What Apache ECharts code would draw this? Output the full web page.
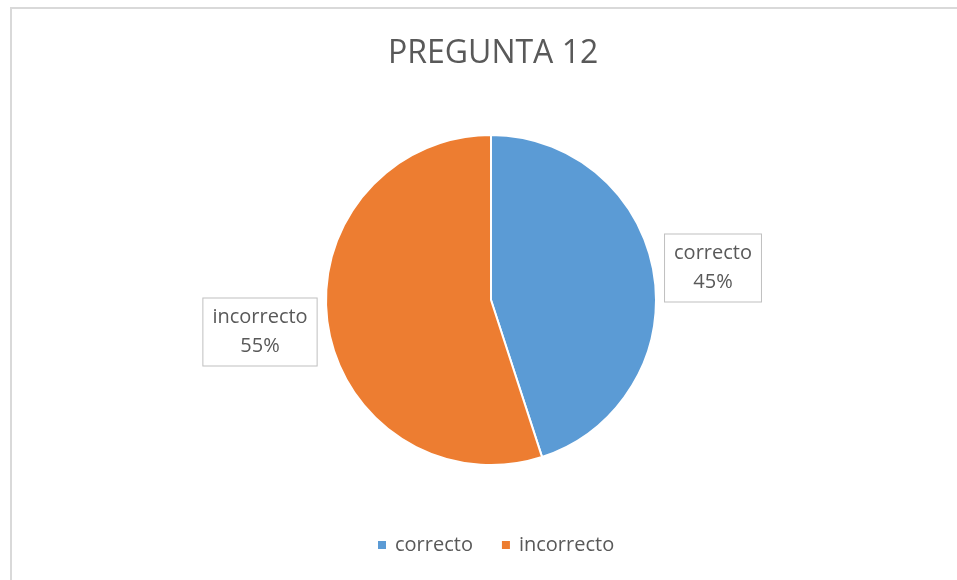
<!DOCTYPE html>
<html>
<head>
<meta charset="utf-8">
<style>
  html, body { margin: 0; padding: 0; background: #fff; }
  #frame { position: absolute; left: 10px; top: 7px; width: 960px; height: 590px;
           border-left: 2px solid #d9d9d9; border-top: 2px solid #d9d9d9; box-sizing: border-box; }
  #chart { position: absolute; left: 0; top: 0; width: 957px; height: 580px; }
</style>
<script src="https://cdn.jsdelivr.net/npm/echarts@6/dist/echarts.min.js"></script>
</head>
<body>
<div id="frame"></div>
<div id="chart"></div>
<script>
const titleText = 'PREGUNTA 12';
const categories = ['correcto', 'incorrecto'];
const percents = [45, 55];
const colors = ['#5b9bd5', '#ed7d31'];

// centre points of the boxed slice labels
const labelSpots = [
  { x: 713, y: 268 },
  { x: 260, y: 332 }
];

const chart = echarts.init(document.getElementById('chart'), null, { renderer: 'canvas' });
const fontFamily = '"Open Sans", sans-serif';

chart.setOption({
  animation: false,
  title: {
    text: titleText,
    left: 383,
    top: 33,
    textStyle: { fontFamily, fontSize: 32, fontWeight: 'normal', color: '#595959' }
  },
  legend: {
    top: 530,
    left: 371,
    itemWidth: 10,
    itemHeight: 10,
    itemGap: 27,
    icon: 'rect',
    textStyle: { fontFamily, fontSize: 20, color: '#595959', padding: [0, 0, 0, 3] },
    data: categories
  },
  series: [{
    type: 'pie',
    center: [491, 300],
    radius: [0, 165],
    startAngle: 90,
    clockwise: true,
    itemStyle: { borderColor: '#fff', borderWidth: 2 },
    labelLine: { show: false },
    label: {
      show: true,
      position: 'outside',
      formatter: p => p.name + '\n' + p.value + '%',
      fontFamily,
      fontSize: 20,
      lineHeight: 29,
      color: '#595959',
      align: 'center',
      borderColor: '#bfbfbf',
      borderWidth: 1,
      padding: [5, 9, 4, 9],
      backgroundColor: '#fff'
    },
    labelLayout: params => ({
      x: labelSpots[params.dataIndex].x,
      y: labelSpots[params.dataIndex].y,
      align: 'center',
      verticalAlign: 'middle'
    }),
    data: categories.map((c, i) => ({
      name: c,
      value: percents[i],
      itemStyle: { color: colors[i] }
    }))
  }]
});
</script>
</body>
</html>
